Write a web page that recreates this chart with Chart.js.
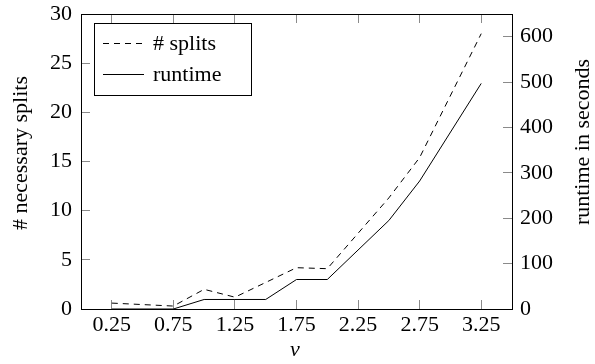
<!DOCTYPE html>
<html>
<head>
<meta charset="utf-8">
<script src="https://cdn.jsdelivr.net/npm/chart.js@4"></script>
<style>
html,body{margin:0;padding:0;background:#fff;}
canvas{display:block;}
</style>
</head>
<body>
<canvas id="c" width="595" height="364"></canvas>
<script>
// ---- data ----
const vValues   = [0.25, 0.75, 1.0, 1.25, 1.5, 1.75, 2.0, 2.5, 2.75, 3.25];
const splits    = [0.6, 0.3, 2.0, 1.2, 2.7, 4.2, 4.1, 11.3, 15.4, 28.0];
const runtime   = [0, 0, 21, 21, 21, 65, 65, 195, 282, 497];
const xTicks    = [0.25, 0.75, 1.25, 1.75, 2.25, 2.75, 3.25];
const leftTicks = [0, 5, 10, 15, 20, 25, 30];
const rightTicks= [0, 100, 200, 300, 400, 500, 600];
const labels    = { splits: "# splits", runtime: "runtime", xTitle: "v",
                    yTitle: "# necessary splits", y1Title: "runtime in seconds" };

const FONT = "Liberation Serif";
const FS = 22;

function hLine(ctx, x0, x1, y, c) { ctx.fillStyle = c; ctx.fillRect(Math.min(x0, x1), y, Math.abs(x1 - x0), 1); }
function vLine(ctx, x, y0, y1, c) { ctx.fillStyle = c; ctx.fillRect(x, Math.min(y0, y1), 1, Math.abs(y1 - y0)); }

const decor = {
  id: 'decor',
  afterDraw(chart) {
    const ctx = chart.ctx;
    ctx.save();
    // legend
    const lx = 94, ly = 23, lw = 158, lh = 73;
    ctx.fillStyle = '#fff';
    ctx.fillRect(lx, ly, lw, lh);
    hLine(ctx, lx, lx + lw, ly, '#000');
    hLine(ctx, lx, lx + lw, ly + lh - 1, '#000');
    vLine(ctx, lx, ly, ly + lh, '#000');
    vLine(ctx, lx + lw - 1, ly, ly + lh, '#000');
    const rows = [43, 74];
    chart.data.datasets.forEach((d, i) => {
      const dash = d.borderDash && d.borderDash.length ? d.borderDash : null;
      if (dash) {
        for (let x = 103; x < 144; x += dash[0] + dash[1]) hLine(ctx, x, Math.min(x + dash[0], 144), rows[i], '#000');
      } else {
        hLine(ctx, 103, 144, rows[i], '#000');
      }
      ctx.fillStyle = '#000';
      ctx.font = FS + 'px "' + FONT + '"';
      ctx.textAlign = 'left';
      ctx.textBaseline = 'middle';
      ctx.fillText(d.label, 153, rows[i] + 1);
    });
    // axis titles
    ctx.fillStyle = '#000';
    ctx.font = FS + 'px "' + FONT + '"';
    ctx.textAlign = 'center';
    ctx.textBaseline = 'middle';
    ctx.save(); ctx.translate(21, 153); ctx.rotate(-Math.PI / 2);
    ctx.fillText(labels.yTitle, 0, 0); ctx.restore();
    ctx.save(); ctx.translate(583, 142); ctx.rotate(-Math.PI / 2);
    ctx.fillText(labels.y1Title, 0, 0); ctx.restore();
    ctx.font = 'italic ' + FS + 'px "' + FONT + '"';
    ctx.fillText(labels.xTitle, 295, 350);
    ctx.restore();
  }
};

const tickFont = { family: FONT, size: FS };
const noPadV = s => { s.paddingTop = 0; s.paddingBottom = 0; };
const noPadH = s => { s.paddingLeft = 0; s.paddingRight = 0; };
const inGrid = { display: true, drawOnChartArea: false, drawTicks: true, tickLength: -9, color: '#8a8a8a', lineWidth: 1 };
const frameBorder = { display: true, color: '#000', width: 1 };

new Chart(document.getElementById('c'), {
  type: 'line',
  data: {
    datasets: [
      { label: labels.splits, yAxisID: 'y', xAxisID: 'x',
        data: vValues.map((v, i) => ({ x: v, y: splits[i] })),
        borderColor: '#000', borderWidth: 1, borderDash: [6, 5],
        pointRadius: 0, tension: 0, fill: false },
      { label: labels.runtime, yAxisID: 'y1', xAxisID: 'x',
        data: vValues.map((v, i) => ({ x: v, y: runtime[i] })),
        borderColor: '#000', borderWidth: 1,
        pointRadius: 0, tension: 0, fill: false }
    ]
  },
  options: {
    responsive: false,
    animation: false,
    layout: { padding: { top: 14, left: 0, right: 0, bottom: 0 } },
    plugins: { legend: { display: false }, tooltip: { enabled: false } },
    scales: {
      x: {
        type: 'linear', position: 'bottom', min: 0, max: 3.5,
        afterBuildTicks: s => { s.ticks = xTicks.map(v => ({ value: v })); },
        afterFit: s => { s.height = 55; noPadH(s); },
        grid: inGrid, border: frameBorder,
        ticks: { font: tickFont, color: '#000', padding: 12, maxRotation: 0, autoSkip: false,
                 callback: v => Number(v).toFixed(2) }
      },
      x2: {
        type: 'linear', position: 'top', min: 0, max: 3.5,
        afterBuildTicks: s => { s.ticks = xTicks.map(v => ({ value: v })); },
        afterFit: s => { s.height = 0; noPadH(s); },
        grid: inGrid, border: frameBorder,
        ticks: { display: false }
      },
      y: {
        type: 'linear', position: 'left', min: 0, max: 30,
        afterBuildTicks: s => { s.ticks = leftTicks.map(v => ({ value: v })); },
        afterFit: s => { s.width = 81; noPadV(s); },
        grid: inGrid, border: frameBorder,
        ticks: { font: tickFont, color: '#000', padding: 18, autoSkip: false }
      },
      y1: {
        type: 'linear', position: 'right', min: 0, max: 650,
        afterBuildTicks: s => { s.ticks = rightTicks.map(v => ({ value: v })); },
        afterFit: s => { s.width = 83; noPadV(s); },
        grid: inGrid, border: frameBorder,
        ticks: { font: tickFont, color: '#000', padding: 17, autoSkip: false }
      }
    }
  },
  plugins: [decor]
});
</script>
</body>
</html>
